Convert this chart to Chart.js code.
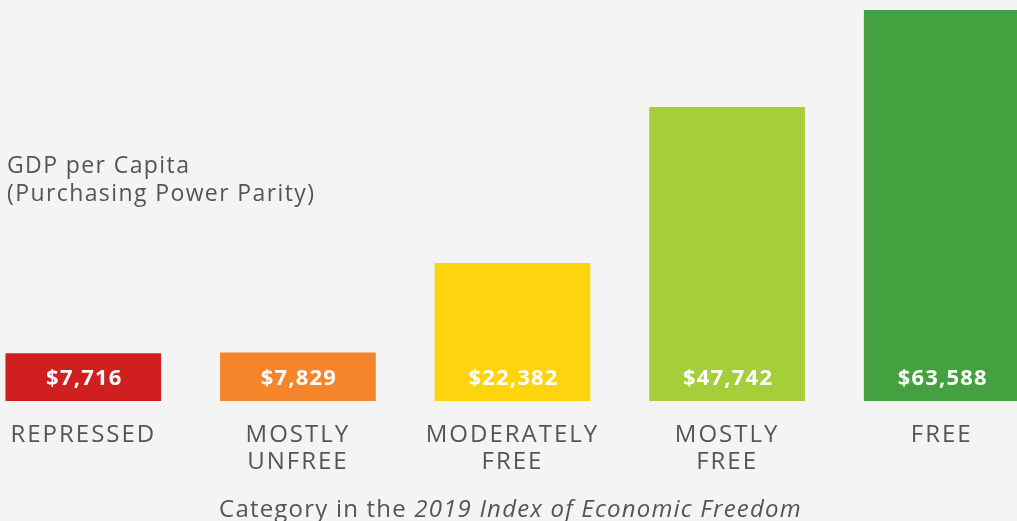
<!DOCTYPE html>
<html>
<head>
<meta charset="utf-8">
<script src="https://cdn.jsdelivr.net/npm/chart.js@4"></script>
<style>
  html, body { margin: 0; padding: 0; background: #f4f4f4; overflow: hidden; }
  body { width: 1017px; height: 521px; position: relative; font-family: "Open Sans", sans-serif; color: #555; }
  #wrap { position: absolute; left: -24px; top: 0; width: 1073px; height: 521px; }
  #ylabel { position: absolute; left: 7px; top: 150px; font-size: 23px; line-height: 28px; letter-spacing: 1.4px; }
  #xtitle { position: absolute; left: 0; width: 1021px; top: 496px; text-align: center; font-size: 24px; line-height: 24px; letter-spacing: 1.2px; }
</style>
</head>
<body>
<div id="wrap"><canvas id="chart" width="1073" height="521"></canvas></div>
<div id="ylabel">GDP per Capita<br>(Purchasing Power Parity)</div>
<div id="xtitle">Category in the <i>2019 Index of Economic Freedom</i></div>
<script>
const categories = [["REPRESSED"], ["MOSTLY", "UNFREE"], ["MODERATELY", "FREE"], ["MOSTLY", "FREE"], ["FREE"]];
const gdpValues = [7716, 7829, 22382, 47742, 63588];
const barColors = ["#cf1f1f", "#f5842a", "#fdd40e", "#a6ce39", "#43a140"];

// wider letters, closer to the original typeface
const spacing = {
    id: "spacing",
    beforeDraw(chart) {
        chart.ctx.letterSpacing = "2px";
    }
};

const valueLabels = {
    id: "valueLabels",
    afterDatasetsDraw(chart) {
        const ctx = chart.ctx;
        const meta = chart.getDatasetMeta(0);
        ctx.save();
        ctx.letterSpacing = "1.2px";
        ctx.fillStyle = "#ffffff";
        ctx.font = "bold 22px 'Open Sans', sans-serif";
        ctx.textAlign = "center";
        ctx.textBaseline = "middle";
        meta.data.forEach(function (bar, i) {
            ctx.fillText("$" + gdpValues[i].toLocaleString("en-US"), bar.x + 1, bar.base - 22);
        });
        ctx.restore();
    }
};

new Chart(document.getElementById("chart").getContext("2d"), {
    type: "bar",
    data: {
        labels: categories,
        datasets: [{
            data: gdpValues,
            backgroundColor: barColors,
            barThickness: 155
        }]
    },
    options: {
        responsive: false,
        animation: false,
        layout: { padding: { top: 10, bottom: 32 } },
        plugins: {
            legend: { display: false },
            tooltip: { enabled: false }
        },
        scales: {
            x: {
                grid: { display: false },
                border: { display: false },
                ticks: {
                    color: "#555",
                    padding: 13,
                    maxRotation: 0,
                    font: { family: "'Open Sans', sans-serif", size: 24, lineHeight: 1.125 }
                }
            },
            y: {
                display: false,
                min: 0,
                max: 63588
            }
        }
    },
    plugins: [spacing, valueLabels]
});
</script>
</body>
</html>
